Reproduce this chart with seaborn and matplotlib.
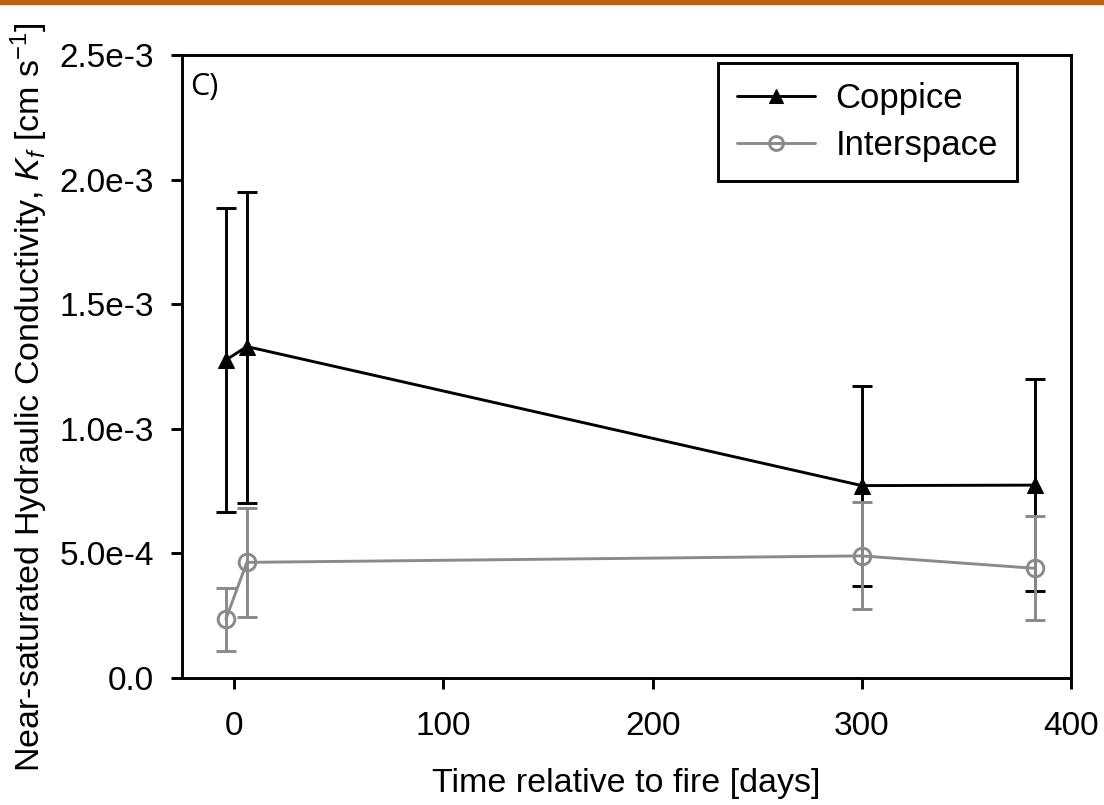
import numpy as np
import pandas as pd
import matplotlib
matplotlib.use("Agg")
import matplotlib.pyplot as plt
import seaborn as sns
from matplotlib.patches import Rectangle

# ---- data ----
days = [-4, 6, 300, 383]
coppice_mean = [1.276e-3, 1.33e-3, 0.772e-3, 0.774e-3]
coppice_upper = [1.886e-3, 1.95e-3, 1.173e-3, 1.20e-3]
coppice_lower = [0.666e-3, 0.702e-3, 0.370e-3, 0.350e-3]
inter_mean = [0.237e-3, 0.464e-3, 0.490e-3, 0.440e-3]
inter_upper = [0.361e-3, 0.681e-3, 0.705e-3, 0.651e-3]
inter_lower = [0.110e-3, 0.246e-3, 0.277e-3, 0.233e-3]
series_names = ["Coppice", "Interspace"]
yticks = [0, 5e-4, 1e-3, 1.5e-3, 2e-3, 2.5e-3]
ytick_labels = ["0.0", "5.0e-4", "1.0e-3", "1.5e-3", "2.0e-3", "2.5e-3"]
xticks = [0, 100, 200, 300, 400]

sns.set_style("ticks")
plt.rcParams['font.family'] = ['Liberation Sans', 'DejaVu Sans']
plt.rcParams['mathtext.fontset'] = 'custom'
plt.rcParams['mathtext.rm'] = 'Liberation Sans'
plt.rcParams['mathtext.it'] = 'Liberation Sans:italic'
plt.rcParams['text.color'] = 'black'
plt.rcParams['axes.labelcolor'] = 'black'
plt.rcParams['xtick.color'] = 'black'
plt.rcParams['ytick.color'] = 'black'

GRAY = '#8a8a8a'
LW = 2.1

df = pd.DataFrame({
    "day": days * 2,
    "K": coppice_mean + inter_mean,
    "series": [series_names[0]] * 4 + [series_names[1]] * 4,
})

fig = plt.figure(figsize=(11.04, 8.05), dpi=100)
ax = fig.add_axes([182/1104, 1-678/805, (1071-182)/1104, (678-55)/805])

# orange strip at top
fig.patches.append(Rectangle((0, 1-4/805), 1, 4/805, transform=fig.transFigure,
                             color='#c2600e', zorder=10))

colors = {"Coppice": "black", "Interspace": GRAY}
# error bars
for name, m, up, lo in [("Coppice", coppice_mean, coppice_upper, coppice_lower),
                        ("Interspace", inter_mean, inter_upper, inter_lower)]:
    m = np.array(m); up = np.array(up); lo = np.array(lo)
    ax.errorbar(days, m, yerr=[m - lo, up - m], fmt='none', ecolor=colors[name],
                elinewidth=LW, capsize=7.5, capthick=LW, zorder=2 if name == "Coppice" else 3)

sns.lineplot(data=df, x="day", y="K", hue="series", style="series",
             palette=colors, markers={"Coppice": "^", "Interspace": "o"},
             dashes=False, ax=ax, linewidth=LW, markersize=12, zorder=4)
for line in ax.lines:
    if line.get_marker() == 'o':
        line.set_markerfacecolor('none')
        line.set_markeredgecolor(GRAY)
        line.set_markeredgewidth(LW)
    elif line.get_marker() == '^':
        line.set_markerfacecolor('black')
        line.set_markeredgecolor('black')

ax.set_xlim(-25, 400)
ax.set_ylim(0, 2.5e-3)
ax.set_xticks(xticks)
ax.set_yticks(yticks)
ax.set_yticklabels(ytick_labels)
for s in ax.spines.values():
    s.set_linewidth(LW)
    s.set_color('black')
ax.tick_params(axis='both', which='major', length=8, width=LW, labelsize=24, color='black')
ax.tick_params(axis='y', pad=12)
ax.tick_params(axis='x', pad=16)

ax.set_xlabel("Time relative to fire [days]", fontsize=24.5)
ax.set_ylabel(r"Near-saturated Hydraulic Conductivity, $K_f$ [cm s$^{-1}$]", fontsize=24.5)
ax.xaxis.set_label_coords(0.5, -0.145)
ax.yaxis.set_label_coords(-0.148, 0.45)

ax.text(0.009, 0.972, "C)", transform=ax.transAxes, fontsize=22, va='top', ha='left',
        family=['Open Sans', 'DejaVu Sans'])

leg = ax.legend(loc='upper right', bbox_to_anchor=(1017/1104, 1-63/805),
                bbox_transform=fig.transFigure, fontsize=25, frameon=True, framealpha=1,
                fancybox=False, edgecolor='black', handlelength=2.25, handletextpad=0.58,
                borderpad=0.55, labelspacing=0.4, borderaxespad=0, title=None)
leg.get_frame().set_linewidth(LW)
for h in leg.legend_handles:
    h.set_markersize(10)
    h.set_linewidth(LW)
    if h.get_marker() == 'o':
        h.set_markerfacecolor('none')
        h.set_markeredgecolor(GRAY)
for t in leg.get_texts():
    t.set_color('black')

fig.savefig("out.png", dpi=100)
